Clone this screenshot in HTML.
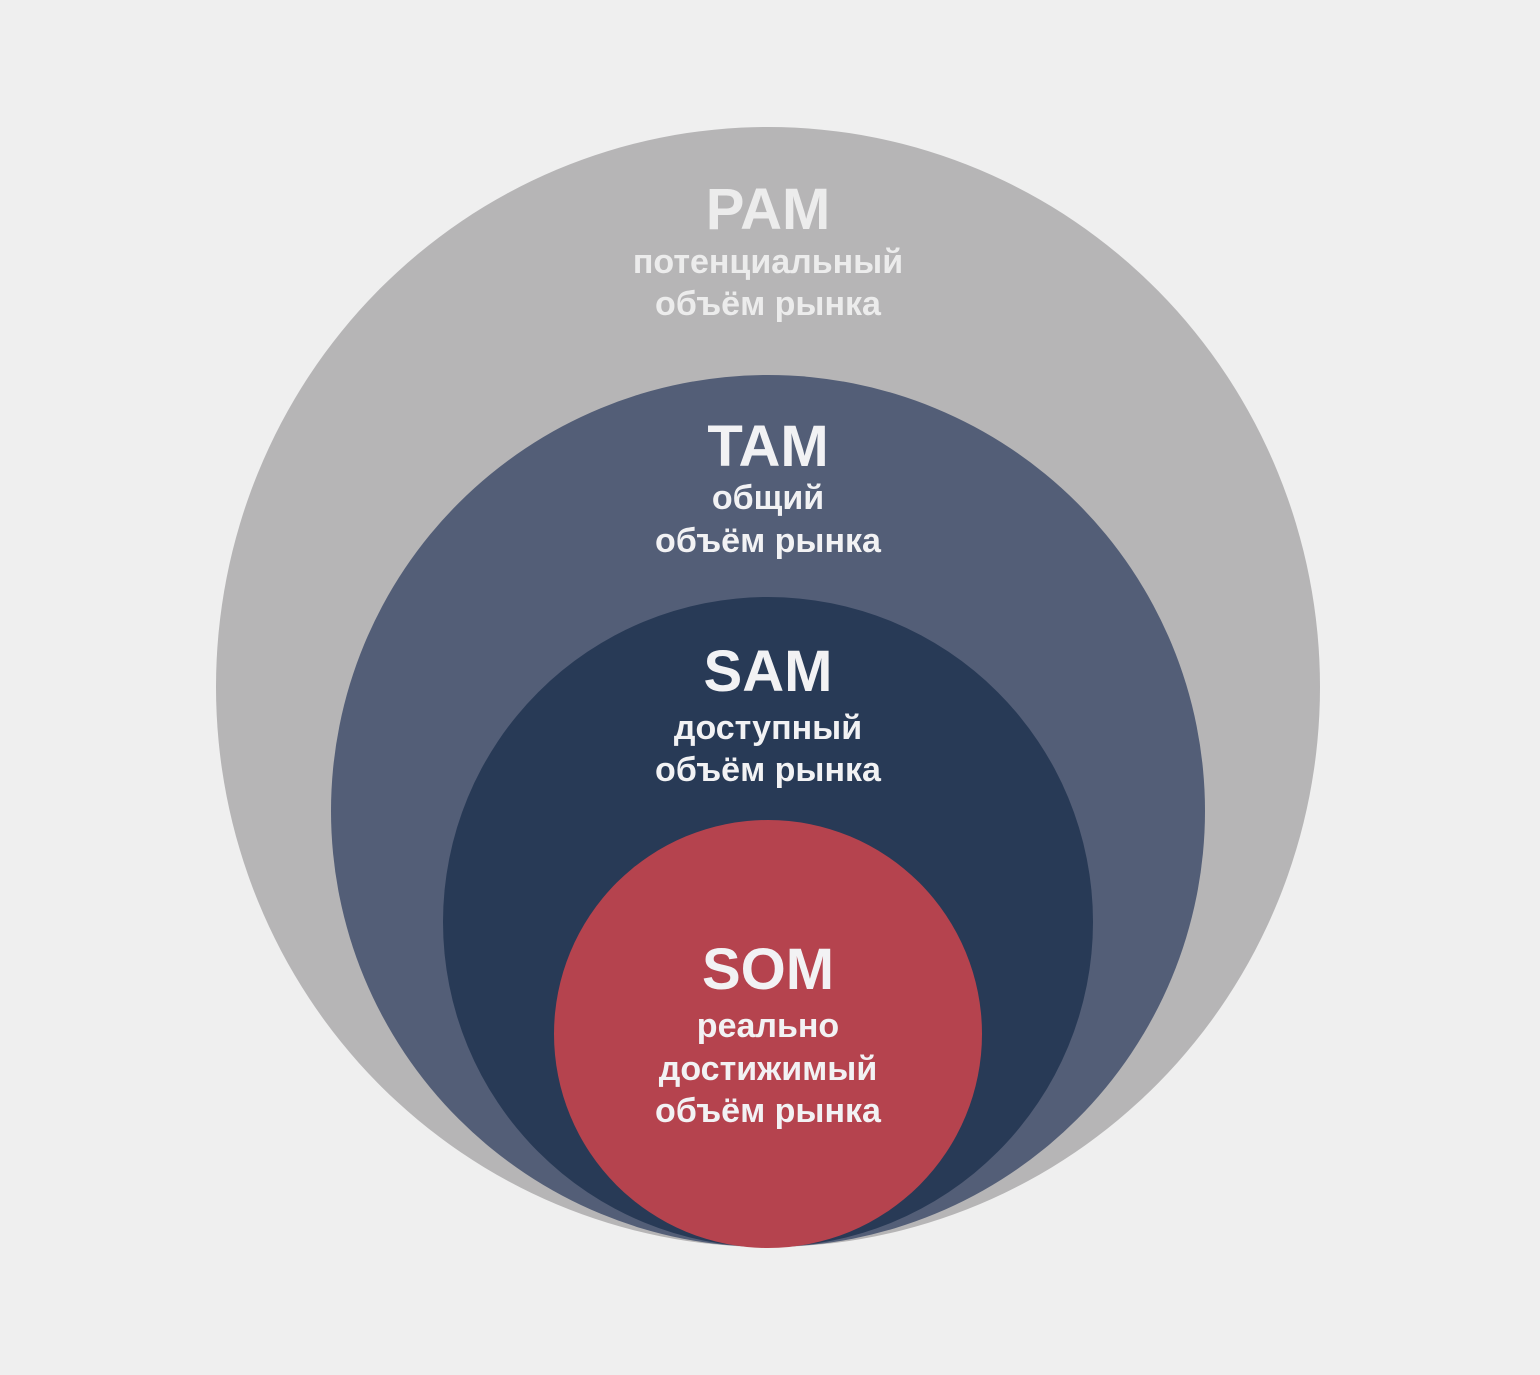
<!DOCTYPE html>
<html><head><meta charset="utf-8"><style>
html,body{margin:0;padding:0;background:#efefef;}
svg{display:block}
text{font-family:"Liberation Sans","DejaVu Sans",sans-serif;font-weight:bold;text-anchor:middle}
</style></head><body>
<svg width="1540" height="1375" viewBox="0 0 1540 1375" xmlns="http://www.w3.org/2000/svg">
<rect width="1540" height="1375" fill="#efefef"/>
<ellipse cx="768" cy="687" rx="552" ry="560" fill="#b6b5b6"/>
<ellipse cx="768" cy="811" rx="437" ry="436" fill="#535e77"/>
<circle cx="768" cy="922" r="325" fill="#283a56"/>
<circle cx="768" cy="1034" r="214" fill="#b5434e"/>
<g fill="#ececec">
<text x="768" y="229" font-size="58">PAM</text>
<text x="768" y="273" font-size="34">потенциальный</text>
<text x="768" y="315" font-size="34">объём рынка</text>
</g>
<g fill="#f2f2f4">
<text x="768" y="466" font-size="58">TAM</text>
<text x="768" y="509" font-size="34">общий</text>
<text x="768" y="552" font-size="34">объём рынка</text>
<text x="768" y="691" font-size="58">SAM</text>
<text x="768" y="739" font-size="34">доступный</text>
<text x="768" y="781" font-size="34">объём рынка</text>
<text x="768" y="989" font-size="58">SOM</text>
<text x="768" y="1037" font-size="34">реально</text>
<text x="768" y="1080" font-size="34">достижимый</text>
<text x="768" y="1122" font-size="34">объём рынка</text>
</g>
</svg>
</body></html>
